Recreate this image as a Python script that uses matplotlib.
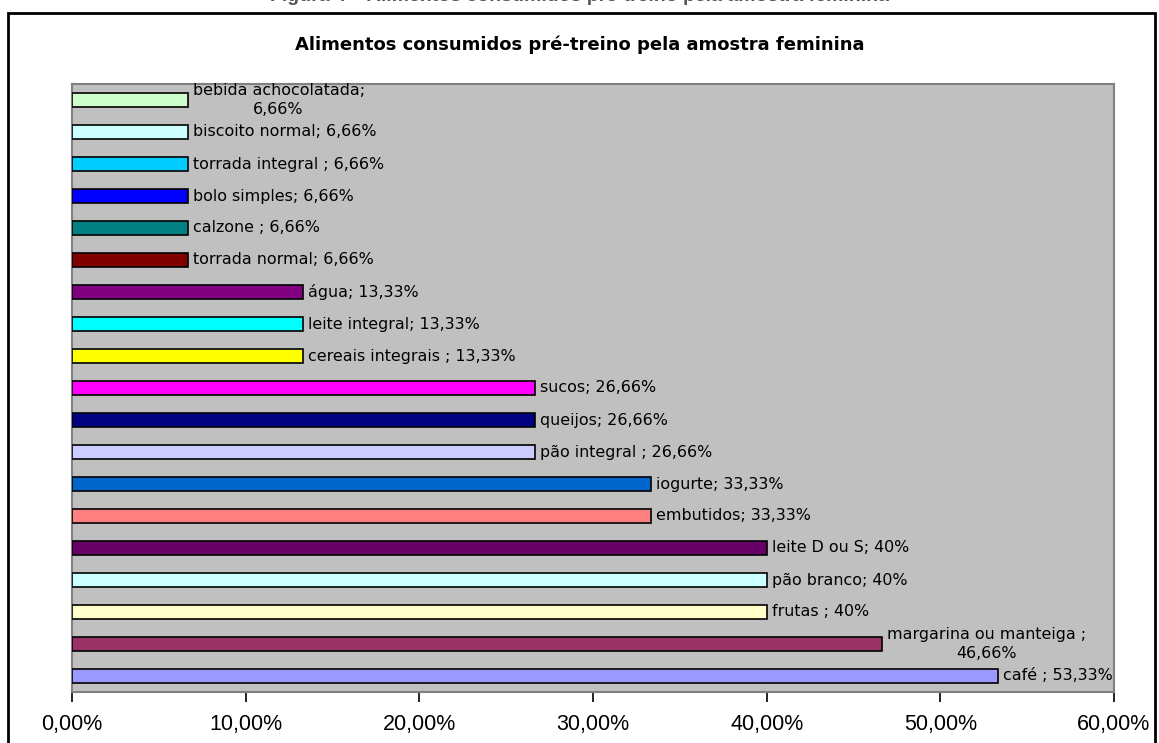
import matplotlib
matplotlib.use("Agg")
import matplotlib.pyplot as plt
from matplotlib.patches import Rectangle
from matplotlib.ticker import FuncFormatter

plt.rcParams['font.family'] = ['Liberation Sans', 'DejaVu Sans']

# Data (bottom to top)
categories = ["café", "margarina ou manteiga", "frutas", "pão branco", "leite D ou S",
              "embutidos", "iogurte", "pão integral", "queijos", "sucos",
              "cereais integrais", "leite integral", "água", "torrada normal", "calzone",
              "bolo simples", "torrada integral", "biscoito normal", "bebida achocolatada"]
values = [53.33, 46.66, 40, 40, 40, 33.33, 33.33, 26.66, 26.66, 26.66,
          13.33, 13.33, 13.33, 6.66, 6.66, 6.66, 6.66, 6.66, 6.66]
labels = ["café ; 53,33%", "margarina ou manteiga ;\n46,66%", "frutas ; 40%", "pão branco; 40%",
          "leite D ou S; 40%", "embutidos; 33,33%", "iogurte; 33,33%", "pão integral ; 26,66%",
          "queijos; 26,66%", "sucos; 26,66%", "cereais integrais ; 13,33%", "leite integral; 13,33%",
          "água; 13,33%", "torrada normal; 6,66%", "calzone ; 6,66%", "bolo simples; 6,66%",
          "torrada integral ; 6,66%", "biscoito normal; 6,66%", "bebida achocolatada;\n6,66%"]
colors = ["#9999FF", "#993366", "#FFFFCC", "#CCFFFF", "#660066", "#FF8080", "#0066CC",
          "#CCCCFF", "#000080", "#FF00FF", "#FFFF00", "#00FFFF", "#800080", "#800000",
          "#008080", "#0000FF", "#00CCFF", "#CCFFFF", "#CCFFCC"]
xticks = [0, 10, 20, 30, 40, 50, 60]

W, H = 1159, 743
fig = plt.figure(figsize=(W / 100, H / 100), dpi=100)
fig.patch.set_facecolor("white")

ax = fig.add_axes([72 / W, 1 - 692 / H, (1114 - 72) / W, (692 - 84) / H])
ax.set_facecolor("#C0C0C0")

y = list(range(len(categories)))
ax.barh(y, values, height=0.44, color=colors, edgecolor="black", linewidth=1.2, zorder=3)

for yi, v, lab in zip(y, values, labels):
    ax.annotate(lab, xy=(v, yi), xytext=(3.5, 0), textcoords="offset points",
                ha="left", va="center", multialignment="center",
                fontsize=11.4, family="DejaVu Sans", color="black", zorder=4,
                linespacing=1.35)

ax.set_xlim(0, 60)
ax.set_ylim(-0.5, len(categories) - 0.5)
ax.set_xticks(xticks)
ax.xaxis.set_major_formatter(FuncFormatter(lambda v, p: f"{v:.2f}%".replace(".", ",")))
ax.tick_params(axis="x", direction="out", length=7, width=1.2, color="black",
               labelsize=15.5, pad=9)
ax.tick_params(axis="y", left=False, labelleft=False)

for side in ["top", "right", "left", "bottom"]:
    ax.spines[side].set_color("#808080")
    ax.spines[side].set_linewidth(1.5)

# Title
fig.text(0.5, 1 - 45 / H, "Alimentos consumidos pré-treino pela amostra feminina",
         ha="center", va="center", fontsize=13, fontweight="bold", family="DejaVu Sans")

# Cropped caption at very top (only the bottom of the letters is visible, as in the reference)
fig.text(0.5, 1 - 1 / H, "Figura 4 – Alimentos consumidos pré-treino pela amostra feminina",
         ha="center", va="baseline", fontsize=14, fontweight="bold", color="#555555")

# Outer frame
fig.patches.append(Rectangle((8 / W, -0.01), (1155 - 8) / W, 1.01 - 13 / H,
                             transform=fig.transFigure, fill=False,
                             edgecolor="black", linewidth=2))

fig.savefig("out.png", dpi=100)
